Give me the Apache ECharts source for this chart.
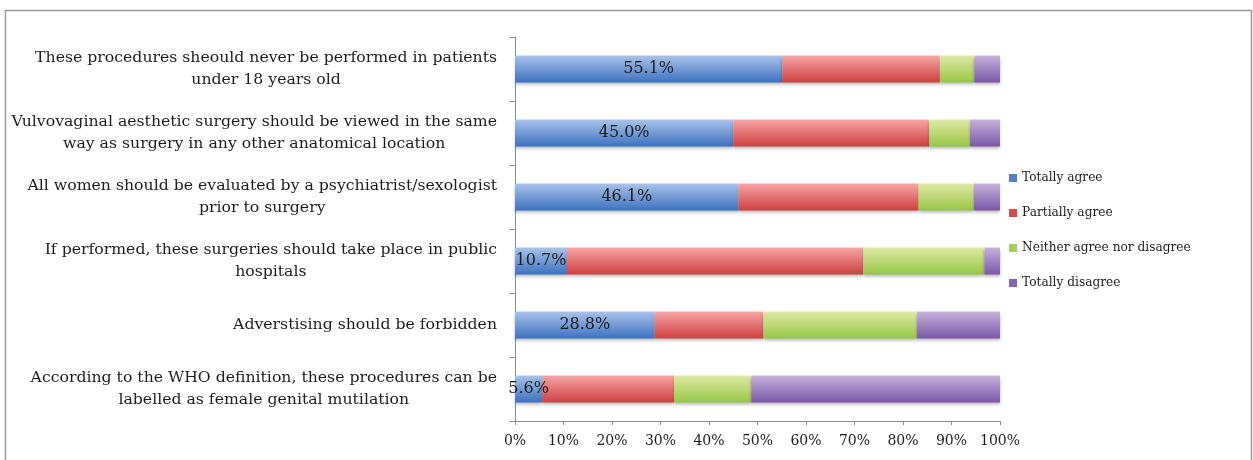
<!DOCTYPE html>
<html>
<head>
<meta charset="utf-8">
<style>
  html, body { margin: 0; padding: 0; background: #fff; }
  #chart { width: 1253px; height: 460px; }
</style>
<script src="https://cdn.jsdelivr.net/npm/echarts@6/dist/echarts.min.js"></script>
</head>
<body>
<div id="chart"></div>
<script>
// Survey statements (top to bottom)
const categories = [
  'These procedures sheould never be performed in patients\nunder 18 years old',
  'Vulvovaginal aesthetic surgery should be viewed in the same\nway as surgery in any other anatomical location',
  'All women should be evaluated by a psychiatrist/sexologist\nprior to surgery',
  'If performed, these surgeries should take place in public\nhospitals',
  'Adverstising should be forbidden',
  'According to the WHO definition, these procedures can be\nlabelled as female genital mutilation'
];

// Share of answers per statement, in percent
const totallyAgree    = [55.1, 45.0, 46.1, 10.7, 28.8, 5.6];
const partiallyAgree  = [32.5, 40.4, 37.1, 61.1, 22.4, 27.2];
const neitherAgree    = [7.1, 8.4, 11.4, 25.0, 31.7, 15.9];
const totallyDisagree = [5.3, 6.2, 5.4, 3.2, 17.1, 51.3];

const seriesNames = ['Totally agree', 'Partially agree', 'Neither agree nor disagree', 'Totally disagree'];

const xTicks = { min: 0, max: 100, interval: 10 };

const FONT = '"DejaVu Serif", "Liberation Serif", serif';
const TEXT = '#1c1c1c';

function grad(top, bottom) {
  return new echarts.graphic.LinearGradient(0, 0, 0, 1, [
    { offset: 0, color: top },
    { offset: 1, color: bottom }
  ]);
}

const fills = [
  grad('#a9c3ea', '#3d72c0'),
  grad('#f5a7a6', '#cf3f3f'),
  grad('#e0eaa6', '#98c545'),
  grad('#c6b1dc', '#7a58a6')
];
const legendColors = ['#4f81c4', '#d64a4a', '#a4cb55', '#8466b0'];

const values = [totallyAgree, partiallyAgree, neitherAgree, totallyDisagree];

const series = values.map((arr, i) => ({
  name: seriesNames[i],
  type: 'bar',
  stack: 'total',
  barWidth: 27,
  data: arr,
  itemStyle: {
    color: fills[i],
    shadowColor: 'rgba(0,0,0,0.28)',
    shadowBlur: 3,
    shadowOffsetY: 2
  },
  label: i === 0 ? {
    show: true,
    position: 'inside',
    formatter: p => p.value.toFixed(1) + '%',
    color: TEXT,
    fontFamily: FONT,
    fontSize: 16
  } : { show: false },
  emphasis: { disabled: true }
}));

const chart = echarts.init(document.getElementById('chart'));
chart.setOption({
  animation: false,
  legend: {
    orient: 'vertical',
    left: 1004,
    top: 166,
    itemGap: 21,
    itemWidth: 8,
    itemHeight: 8,
    icon: 'rect',
    data: seriesNames.map((n, i) => ({ name: n, itemStyle: { color: legendColors[i] } })),
    textStyle: { fontFamily: FONT, fontSize: 12.2, color: TEXT, lineHeight: 14 }
  },
  grid: { left: 515, right: 253, top: 37, bottom: 39, containLabel: false },
  xAxis: {
    type: 'value',
    min: xTicks.min,
    max: xTicks.max,
    interval: xTicks.interval,
    axisLine: { show: true, lineStyle: { color: '#8a8a8a', width: 1 } },
    axisTick: { show: true, length: 4, lineStyle: { color: '#8a8a8a' } },
    splitLine: { show: false },
    axisLabel: {
      formatter: '{value}%',
      fontFamily: FONT,
      fontSize: 14,
      color: TEXT,
      margin: 13
    }
  },
  yAxis: {
    type: 'category',
    inverse: true,
    data: categories,
    axisLine: { show: true, lineStyle: { color: '#8a8a8a', width: 1 } },
    axisTick: { show: true, length: 5, lineStyle: { color: '#8a8a8a' } },
    axisLabel: {
      margin: 18,
      align: 'right',
      lineHeight: 22.5,
      formatter: v => v.split('\n').map(l => '{c|' + l + '}').join('\n'),
      rich: {
        c: { align: 'center', fontFamily: FONT, fontSize: 15.7, color: TEXT, lineHeight: 22.5 }
      }
    }
  },
  graphic: [{
    type: 'rect',
    shape: { x: 5.5, y: 10.5, width: 1246, height: 470 },
    style: { fill: 'none', stroke: '#9a9a9a', lineWidth: 1.5 },
    silent: true
  }],
  series: series
});
</script>
</body>
</html>
